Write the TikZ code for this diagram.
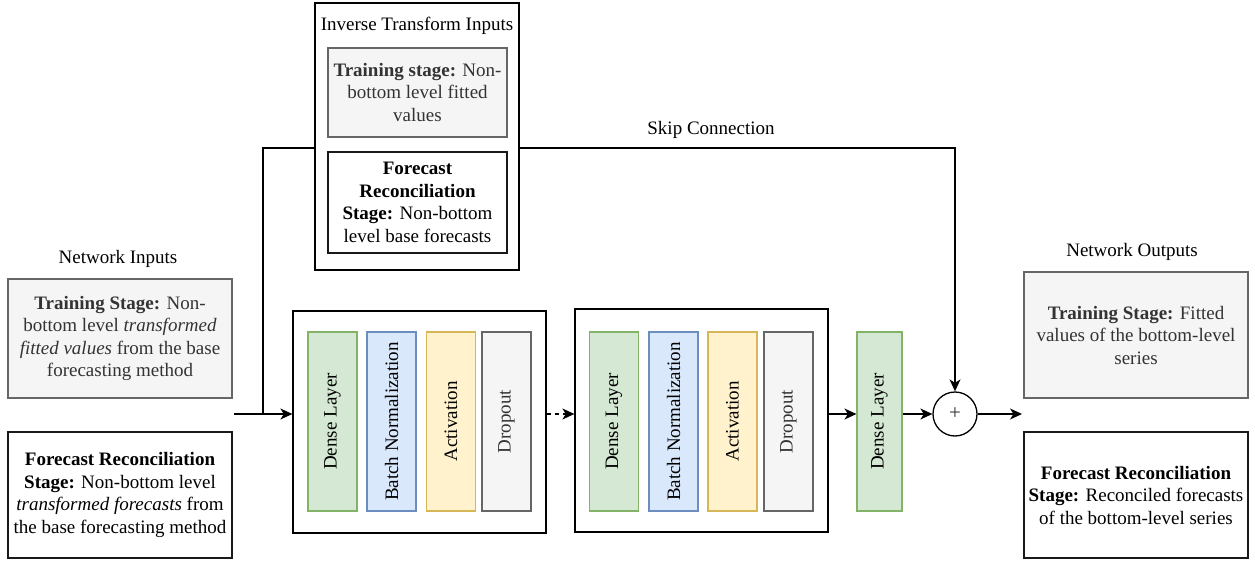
\documentclass[tikz,border=0pt]{standalone}
\usepackage{fontspec}
\setmainfont{Liberation Serif}
\usetikzlibrary{arrows.meta}
\definecolor{greyfill}{HTML}{F5F5F5}
\definecolor{greyline}{HTML}{666666}
\definecolor{greytext}{HTML}{333333}
\definecolor{greenfill}{HTML}{D5E8D4}
\definecolor{greenline}{HTML}{82B366}
\definecolor{bluefill}{HTML}{DAE8FC}
\definecolor{blueline}{HTML}{6C8EBF}
\definecolor{yellowfill}{HTML}{FFF2CC}
\definecolor{yellowline}{HTML}{D6B656}
\begin{document}
\begin{tikzpicture}[x=1pt,y=-1pt,
  txt/.style={font=\fontsize{19}{22.5}\selectfont, align=center},
  box/.style={draw, line width=1.3pt, inner sep=0pt, txt},
  greybox/.style={box, draw=greyline, fill=greyfill, text=greytext, line width=1.1pt},
  whitebox/.style={box, draw=black!90, fill=white},
  bar/.style={draw, line width=1.1pt, inner sep=0pt, minimum width=49, minimum height=179},
  densebar/.style={bar, fill=greenfill, draw=greenline,
    label={[txt, rotate=90]center:#1}},
  normbar/.style={bar, fill=bluefill, draw=blueline,
    label={[txt, rotate=90]center:#1}},
  actbar/.style={bar, fill=yellowfill, draw=yellowline,
    label={[txt, rotate=90]center:#1}},
  dropbar/.style={bar, fill=greyfill, draw=greyline,
    label={[txt, rotate=90, text=greytext]center:#1}},
  wire/.style={line width=1.3pt},
  arrow/.style={wire, -{Stealth[length=12pt, width=11pt, inset=3.5pt]}},
  caption/.style={txt, anchor=base, inner sep=0pt}
]
\useasboundingbox (0,0) rectangle (1255,561);

% network inputs
\node[caption] (incap) at (118,264) {Network Inputs};
\node[greybox, minimum width=224, minimum height=119] (intrain) at (120,338.5)
  {\textbf{Training Stage:} Non-\\bottom level \textit{transformed}\\\textit{fitted values} from the base\\forecasting method};
\node[whitebox, minimum width=224, minimum height=126] (inrec) at (120,495)
  {\textbf{Forecast Reconciliation}\\\textbf{Stage:} Non-bottom level\\\textit{transformed forecasts} from\\the base forecasting method};

% inverse transform inputs
\node[box, minimum width=204, minimum height=267] (inv) at (417,136.5) {};
\node[caption] (invcap) at (417,31) {Inverse Transform Inputs};
\node[greybox, minimum width=179, minimum height=89] (invtrain) at (417.5,92.5)
  {\textbf{Training stage:} Non-\\bottom level fitted\\values};
\node[whitebox, minimum width=179, minimum height=101] (invrec) at (417.5,202.5)
  {\textbf{Forecast}\\\textbf{Reconciliation}\\\textbf{Stage:} Non-bottom\\level base forecasts};

% hidden blocks
\node[box, minimum width=253, minimum height=222] (b1) at (419.5,422) {};
\node[densebar=Dense Layer] (b1d) at (332.5,421.5) {};
\node[normbar=Batch Normalization] (b1n) at (391.5,421.5) {};
\node[actbar=Activation] (b1a) at (451,421.5) {};
\node[dropbar=Dropout] (b1o) at (506.5,421.5) {};

\node[box, minimum width=253, minimum height=223] (b2) at (701.5,420.5) {};
\node[densebar=Dense Layer] (b2d) at (614,421.5) {};
\node[normbar=Batch Normalization] (b2n) at (673.5,421.5) {};
\node[actbar=Activation] (b2a) at (732.5,421.5) {};
\node[dropbar=Dropout] (b2o) at (788.5,421.5) {};

% output layer and sum
\node[densebar=Dense Layer, minimum width=45] (d3) at (879.5,421.5) {};
\node[draw, circle, line width=1.3pt, minimum size=44, inner sep=0pt,
  font=\fontsize{21}{24}\selectfont, text=greytext] (sum) at (955,414) {+};

% network outputs
\node[caption] (outcap) at (1132,257) {Network Outputs};
\node[greybox, minimum width=224, minimum height=126] (outtrain) at (1136,335)
  {\textbf{Training Stage:} Fitted\\values of the bottom-level\\series};
\node[whitebox, minimum width=224, minimum height=126] (outrec) at (1136,495)
  {\textbf{Forecast Reconciliation}\\\textbf{Stage:} Reconciled forecasts\\of the bottom-level series};

\node[caption] (skipcap) at (711,135) {Skip Connection};

% connectors
\coordinate (in) at (234,414);
\coordinate (join) at (263,414);
\coordinate (out) at (1022,414);
\draw[arrow] (in) -- (in -| b1.west);
\draw[wire] (inv.west |- 0,148) -| (join);
\draw[arrow] (inv.east |- 0,148) -| (sum.north);
\draw[arrow, dash pattern=on 4pt off 4pt] (b1.east |- in) -- (b2.west |- in);
\draw[arrow] (b2.east |- in) -- (d3.west |- in);
\draw[arrow] (d3.east |- sum) -- (sum.west);
\draw[arrow] (sum.east) -- (out);
\end{tikzpicture}
\end{document}
